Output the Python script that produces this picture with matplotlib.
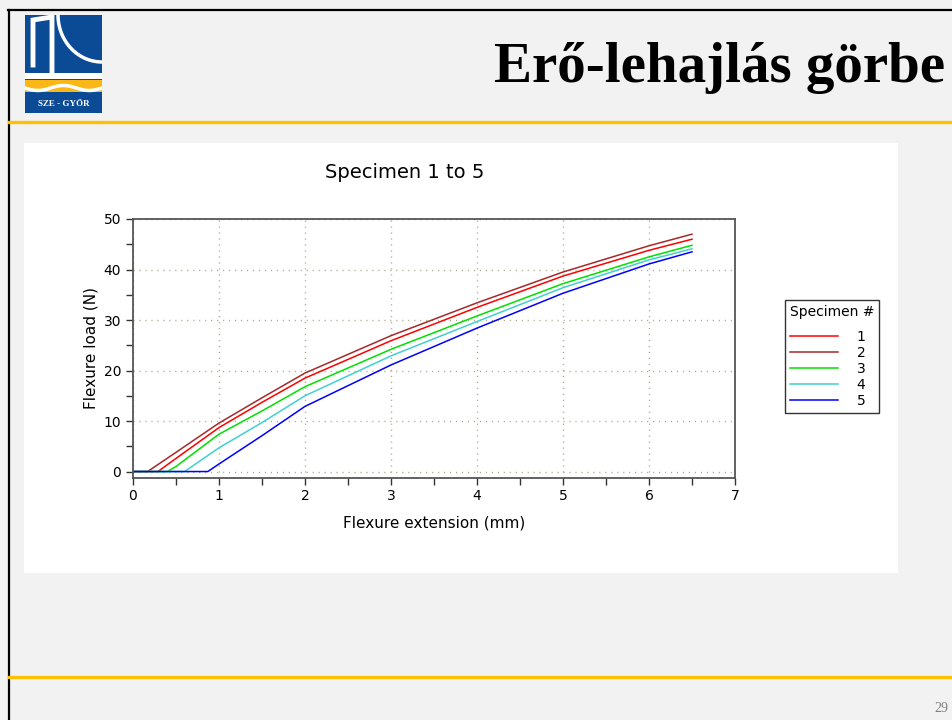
import numpy as np
import matplotlib
matplotlib.use("Agg")
import matplotlib.pyplot as plt
from matplotlib.lines import Line2D
from matplotlib.patches import Rectangle

# data: extension (mm) and load (N) for each specimen
specimens = ['1', '2', '3', '4', '5']
colors = ['#ff0000', '#a52a2a', '#00e000', '#40d0d0', '#0000ff']
ext_1 = [0, 0.29, 0.5, 1.0, 1.5, 2.0, 3.0, 4.0, 5.0, 6.0, 6.5]
load_1 = [0, 0, 2.6, 8.7, 13.7, 18.5, 25.9, 32.5, 38.7, 43.8, 46.0]
ext_2 = [0, 0.17, 0.5, 1.0, 1.5, 2.0, 3.0, 4.0, 5.0, 6.0, 6.5]
load_2 = [0, 0, 3.8, 9.6, 14.6, 19.5, 26.9, 33.4, 39.5, 44.7, 47.0]
ext_3 = [0, 0.40, 0.5, 1.0, 1.5, 2.0, 3.0, 4.0, 5.0, 6.0, 6.5]
load_3 = [0, 0, 1.0, 7.4, 12.0, 16.8, 24.2, 30.8, 37.2, 42.5, 44.8]
ext_4 = [0, 0.60, 1.0, 1.5, 2.0, 3.0, 4.0, 5.0, 6.0, 6.5]
load_4 = [0, 0, 4.7, 9.7, 15.0, 22.9, 29.7, 36.4, 41.9, 44.1]
ext_5 = [0, 0.87, 1.0, 1.5, 2.0, 3.0, 4.0, 5.0, 6.0, 6.5]
load_5 = [0, 0, 1.5, 7.1, 12.9, 21.1, 28.4, 35.3, 41.1, 43.5]
exts = [ext_1, ext_2, ext_3, ext_4, ext_5]
loads = [load_1, load_2, load_3, load_4, load_5]

W, H = 953, 720


def fx(px):
    return px / W


def fy(py):
    return 1 - py / H


fig = plt.figure(figsize=(W / 100, H / 100), dpi=100, facecolor='#f2f2f2')

# slide frame
fig.add_artist(Line2D([fx(8), 1], [fy(10), fy(10)], color='black', lw=1.6))
fig.add_artist(Line2D([fx(9), fx(9)], [fy(10), 0], color='black', lw=1.6))
fig.add_artist(Line2D([fx(9), 1], [fy(122), fy(122)], color='#ffc000', lw=2.4))
fig.add_artist(Line2D([fx(9), 1], [fy(677), fy(677)], color='#ffc000', lw=2.4))

fig.text(fx(945), fy(68), 'Erő-lehajlás görbe', ha='right', va='center',
         fontsize=41, fontweight='bold', family='Liberation Serif')
fig.text(fx(948), fy(708), '29', ha='right', va='center', fontsize=10,
         color='#808080', family='Liberation Serif')

# white chart panel
fig.add_artist(Rectangle((fx(24), fy(573)), fx(898) - fx(24), fy(143) - fy(573),
                         transform=fig.transFigure, facecolor='white', edgecolor='none', zorder=0))

# logo
lg = fig.add_axes([fx(25), fy(113), fx(77), 98 / H])
lg.set_xlim(0, 77)
lg.set_ylim(98, 0)
lg.axis('off')
lg.add_patch(Rectangle((0, 0), 77, 98, facecolor='#0b4a94', edgecolor='none'))
lg.plot([8, 8, 27, 27], [50, 5, 2, 60], color='white', lw=3.5, solid_joinstyle='miter')
t = np.linspace(0, 1, 30)
lg.plot(33 + 44 * (1 - np.cos(t * np.pi / 2)), 0 + 47 * np.sin(t * np.pi / 2), color='white', lw=2.5)
lg.add_patch(Rectangle((0, 58), 77, 6, facecolor='white', edgecolor='none'))
lg.add_patch(Rectangle((0, 65), 77, 12, facecolor='#fbb715', edgecolor='none'))
wx = np.linspace(0, 77, 60)
lg.plot(wx, 73 + 2.5 * np.sin(wx / 77 * 3 * np.pi), color='white', lw=2.5)
lg.text(38.5, 89, 'SZE - GYŐR', color='white', ha='center', va='center',
        fontsize=6.5, fontweight='bold', family='Liberation Serif')

# chart
ax = fig.add_axes([fx(133), fy(477.6), fx(735) - fx(133), (477.6 - 219) / H])
for name, c, x, y in zip(specimens, colors, exts, loads):
    ax.plot(x, y, color=c, lw=1.1, label=name)

ax.set_xlim(0, 7)
ax.set_ylim(-1.2, 50)
ax.set_xticks(range(0, 8))
ax.set_yticks(range(0, 51, 10))
ax.set_xticks(np.arange(0.5, 7, 1), minor=True)
ax.set_yticks(np.arange(5, 50, 10), minor=True)
ax.tick_params(which='both', direction='out', length=5, width=1, color='#333333',
               labelsize=10)
ax.grid(True, which='major', linestyle=(0, (0.8, 3.5)), color='#aaa48a', lw=1)
ax.set_axisbelow(True)
for s in ax.spines.values():
    s.set_color('#555555')
    s.set_linewidth(1.3)
ax.set_xlabel('Flexure extension (mm)', fontsize=11, labelpad=9)
ax.set_ylabel('Flexure load (N)', fontsize=11)
fig.text(fx(405), fy(173), 'Specimen 1 to 5', ha='center', va='center', fontsize=14)

leg = ax.legend(title='Specimen #', loc='upper left', bbox_to_anchor=(fx(785), fy(300)),
                bbox_transform=fig.transFigure, fancybox=False, framealpha=1,
                edgecolor='#333333', fontsize=10, title_fontsize=10,
                handlelength=3.5, labelspacing=0.15, borderpad=0.35, alignment='left',
                handletextpad=1.3, borderaxespad=0)
leg.get_frame().set_linewidth(1)
leg._legend_box.sep = 8

fig.savefig('out.png', dpi=100, facecolor=fig.get_facecolor())
